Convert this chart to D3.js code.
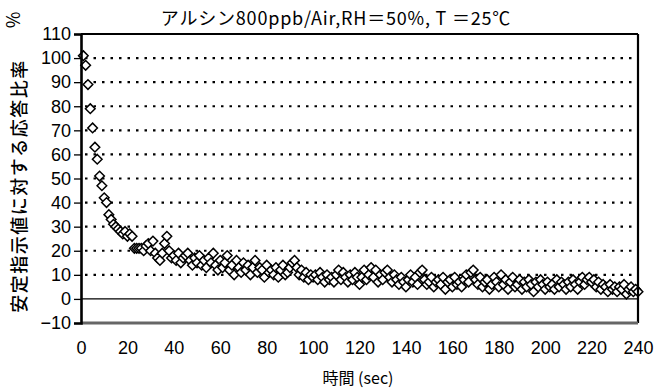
<!DOCTYPE html>
<html><head><meta charset="utf-8">
<script src="https://cdn.jsdelivr.net/npm/d3@7"></script>
<style>
body{margin:0;background:#fff;}
svg{display:block;}
text{fill:#000;}
</style></head>
<body>
<script>
const title = "アルシン800ppb/Air,RH＝50%, T ＝25℃";
const yTitle = "安定指示値に対する応答比率";
const xTitle = "時間 (sec)";
const xTicks = [0,20,40,60,80,100,120,140,160,180,200,220,240];
const yTicks = [-10,0,10,20,30,40,50,60,70,80,90,100,110];
const gridValues = [10,20,30,40,50,60,70,80,90,100];
// response ratio (%) sampled every 1 s, t = 1..240
const ratio = [
101,97,89,79,71,63,58,51,47,42,
40,35,33,31,30,29,28,27,28,26,
27,26,21,21,21,21,20,22,23,20,
24,19,17,16,19,23,26,20,17,18,
16,19,15,17,18,19,16,14,17,15,
18,14,16,13,17,15,19,14,12,16,
13,15,18,12,14,10,16,13,11,15,
12,14,10,13,16,11,13,12,9,14,
11,12,10,13,9,12,14,10,11,13,
15,16,13,10,12,9,11,8,10,9,
10,8,11,9,7,10,8,9,7,10,
12,8,11,9,7,10,8,11,9,6,
9,12,8,10,13,9,12,7,10,8,
11,12,9,7,10,8,6,9,7,5,
8,10,7,9,6,11,12,8,6,7,
9,5,7,8,6,9,4,7,8,5,
9,6,7,5,8,10,7,11,12,8,
6,9,5,7,8,4,6,9,7,5,
10,6,8,4,7,9,5,6,8,4,
7,5,8,6,3,7,5,8,6,4,
7,5,6,4,8,5,7,6,4,7,
5,8,6,4,7,9,6,8,9,7,
8,5,7,4,6,5,3,6,4,5,
3,5,4,6,2,4,5,3,4,3
];
const times = ratio.map((_, i) => i + 1);

const W = 666, H = 391;
const svg = d3.select("body").append("svg").attr("width", W).attr("height", H);
const x = d3.scaleLinear().domain([0,240]).range([81,638]);
const y = d3.scaleLinear().domain([-10,110]).range([323,34]);
const font = "'Liberation Sans Narrow','Liberation Sans',Arial,sans-serif";
const jp = "'Noto Sans CJK JP',sans-serif";

// gridlines
svg.append("g").selectAll("line").data(gridValues).join("line")
  .attr("x1", x(0)+4).attr("x2", x(240)-3)
  .attr("y1", d => y(d)).attr("y2", d => y(d))
  .attr("stroke", "#000").attr("stroke-width", 2.2)
  .attr("stroke-dasharray", "2.5,6");
// zero line
svg.append("line").attr("x1", x(0)).attr("x2", x(240))
  .attr("y1", y(0)).attr("y2", y(0)).attr("stroke", "#000").attr("stroke-width", 1.2);

// points
const dsz = 4.8;
svg.append("g").selectAll("path").data(times).join("path")
  .attr("d", (t, i) => {
    const cx = x(t), cy = y(ratio[i]);
    return `M${cx},${cy-dsz}L${cx+dsz},${cy}L${cx},${cy+dsz}L${cx-dsz},${cy}Z`;
  })
  .attr("fill", "#fff").attr("stroke", "#000").attr("stroke-width", 1.5);

// frame
svg.append("line").attr("x1", x(0)).attr("x2", x(240)).attr("y1", y(110)).attr("y2", y(110))
  .attr("stroke", "#000").attr("stroke-width", 2);
svg.append("line").attr("x1", x(240)).attr("x2", x(240)).attr("y1", y(110)).attr("y2", y(-10))
  .attr("stroke", "#000").attr("stroke-width", 2.2);
svg.append("line").attr("x1", x(0)).attr("x2", x(240)).attr("y1", y(-10)).attr("y2", y(-10))
  .attr("stroke", "#666").attr("stroke-width", 3);

// y axis
const yAxis = d3.axisLeft(y).tickValues(yTicks).tickSize(7).tickPadding(3).tickFormat(d3.format("d"));
const ga = svg.append("g").attr("transform", `translate(${x(0)},0)`).call(yAxis);
ga.select(".domain").attr("stroke", "#000").attr("stroke-width", 2.6);
ga.selectAll(".tick line").attr("stroke", "#000").attr("stroke-width", 1.3);
ga.selectAll(".tick text").attr("font-family", font).attr("font-size", 18).attr("fill", "#000");

// x axis
const xAxis = d3.axisBottom(x).tickValues(xTicks).tickSize(0).tickPadding(18).tickFormat(d3.format("d"));
const gx = svg.append("g").attr("transform", `translate(0,${y(-10)})`).call(xAxis);
gx.select(".domain").remove();
gx.selectAll(".tick text").attr("font-family", font).attr("font-size", 18).attr("fill", "#000");

// titles
svg.append("text").attr("x", 336).attr("y", 25).attr("text-anchor", "middle")
  .attr("font-family", jp).attr("font-size", 18).attr("letter-spacing", 0.8).text(title);
svg.append("text").attr("transform", "translate(26,186) rotate(-90)").attr("text-anchor", "middle")
  .attr("font-family", jp).attr("font-size", 18).attr("font-weight", 500)
  .attr("letter-spacing", 1.5).text(yTitle);
svg.append("text").attr("transform", "translate(20,20) rotate(-90)").attr("text-anchor", "middle")
  .attr("font-family", jp).attr("font-size", 18).text("%");
svg.append("text").attr("x", 358).attr("y", 384).attr("text-anchor", "middle")
  .attr("font-family", jp).attr("font-size", 16).text(xTitle);
</script>
</body></html>
